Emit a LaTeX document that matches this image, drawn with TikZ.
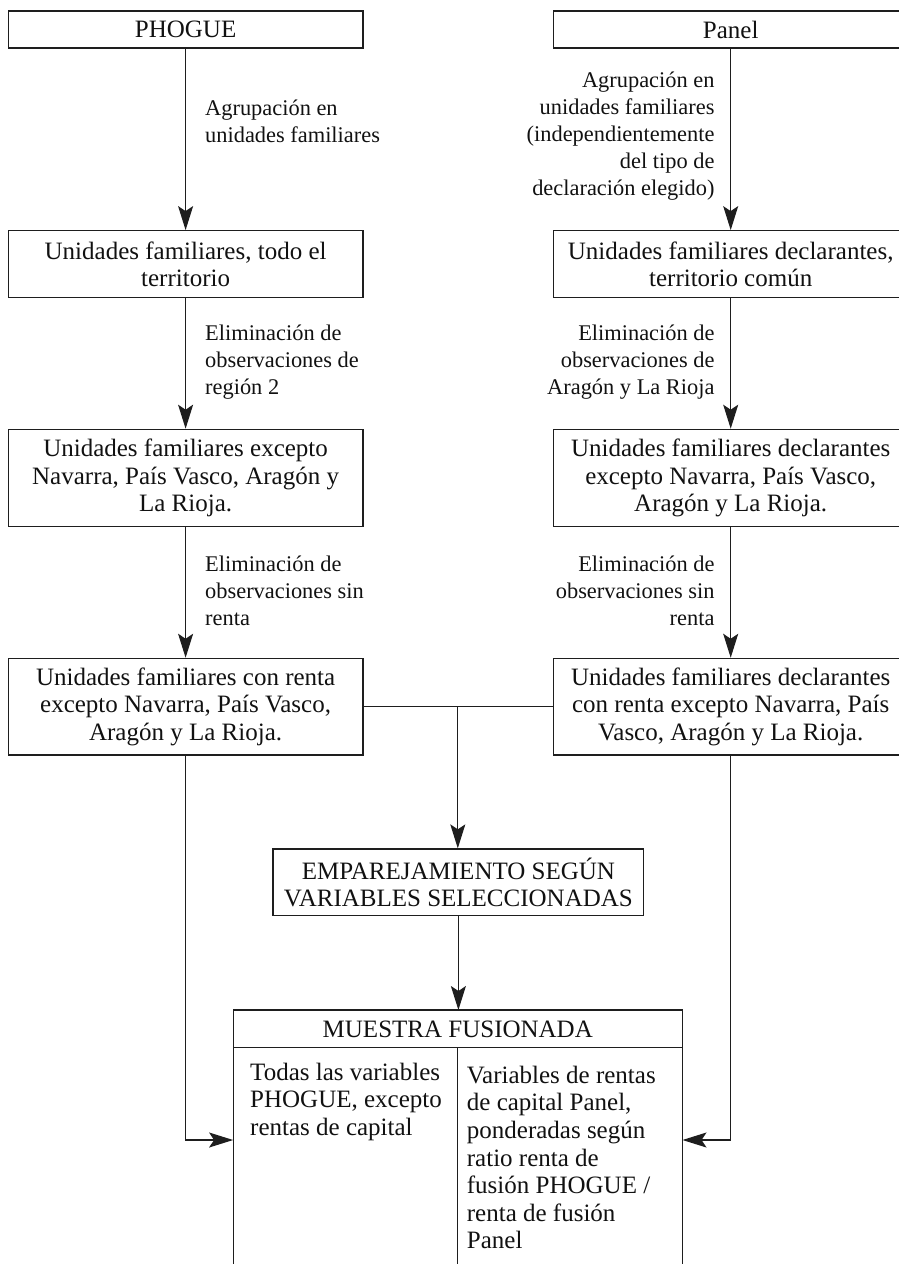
\documentclass[tikz,border=0pt]{standalone}
\usepackage{fontspec}
\setmainfont{Liberation Serif}
\usetikzlibrary{arrows.meta}
\definecolor{linec}{HTML}{1E1E1E}
\definecolor{txtc}{HTML}{111111}
\begin{document}
\begin{tikzpicture}[x=1pt,y=-1pt,
  box/.style={draw=linec, line width=1.2pt, align=center, inner sep=2pt, text=txtc,
              font=\fontsize{25}{27.6}\selectfont},
  lbl/.style={inner sep=0pt, text=txtc, font=\fontsize{22.4}{27}\selectfont},
  coltxt/.style={inner sep=0pt, text=txtc, align=left, anchor=west,
              font=\fontsize{25}{27.6}\selectfont},
  ln/.style={draw=linec, line width=1.2pt},
  arr/.style={draw=linec, line width=1.2pt, -{Stealth[length=24pt,width=15pt,inset=5pt]}}]
\useasboundingbox (0,0) rectangle (898,1264);

% left column
\node[box, minimum width=354.7pt, minimum height=37pt] (l1) at (185.6,29.5) {PHOGUE};
\node[box, minimum width=354.7pt, minimum height=67pt] (l2) at (185.6,264.2)
  {Unidades familiares, todo el\\territorio};
\node[box, minimum width=354.7pt, minimum height=97.4pt] (l3) at (185.6,478)
  {Unidades familiares excepto\\Navarra, País Vasco, Aragón y\\La Rioja.};
\node[box, minimum width=354.7pt, minimum height=96.7pt] (l4) at (185.6,706.7)
  {Unidades familiares con renta\\excepto Navarra, País Vasco,\\Aragón y La Rioja.};

% right column
\node[box, minimum width=355pt, minimum height=37pt] (r1) at (730.7,29.5) {Panel};
\node[box, minimum width=355pt, minimum height=67pt] (r2) at (730.7,264.2)
  {Unidades familiares declarantes,\\territorio común};
\node[box, minimum width=355pt, minimum height=97.4pt] (r3) at (730.7,478)
  {Unidades familiares declarantes\\excepto Navarra, País Vasco,\\Aragón y La Rioja.};
\node[box, minimum width=355pt, minimum height=96.7pt] (r4) at (730.7,706.7)
  {Unidades familiares declarantes\\con renta excepto Navarra, País\\Vasco, Aragón y La Rioja.};

% matching box
\node[box, minimum width=370.7pt, minimum height=66.7pt] (emp) at (458.4,882.3)
  {EMPAREJAMIENTO SEGÚN\\VARIABLES SELECCIONADAS};

% merged sample (open at the bottom)
\node[minimum width=449pt, minimum height=290pt, inner sep=0pt, anchor=north] (ms) at (457.8,1010) {};
\node[inner sep=0pt, text=txtc, font=\fontsize{25}{27.6}\selectfont] (mh) at (457.8,1029) {MUESTRA FUSIONADA};
\draw[ln] (ms.south west) -- (ms.north west) -- (ms.north east) -- (ms.south east);
\draw[ln] ([yshift=-37.7pt]ms.north west) -- ([yshift=-37.7pt]ms.north east);
\draw[ln] ([yshift=-37.7pt]ms.north) -- (ms.south);
\node[coltxt] (mcl) at (250,1101.7)
  {Todas las variables\\PHOGUE, excepto\\rentas de capital};
\node[coltxt] (mcr) at (466.7,1157.5)
  {Variables de rentas\\de capital Panel,\\ponderadas según\\ratio renta de\\fusión PHOGUE /\\renta de fusión\\Panel};

% labels
\node[lbl, anchor=west, align=left] (la1) at (205,121.5) {Agrupación en\\unidades familiares};
\node[lbl, anchor=east, align=right] (ra1) at (714.7,136.5)
  {Agrupación en\\unidades familiares\\(independientemente\\del tipo de\\declaración elegido)};
\node[lbl, anchor=west, align=left] (la2) at (205,362) {Eliminación de\\observaciones de\\región 2};
\node[lbl, anchor=east, align=right] (ra2) at (714.7,362) {Eliminación de\\observaciones de\\Aragón y La Rioja};
\node[lbl, anchor=west, align=left] (la3) at (205,591) {Eliminación de\\observaciones sin\\renta};
\node[lbl, anchor=east, align=right] (ra3) at (714.7,591) {Eliminación de\\observaciones sin\\renta};

% connectors
\draw[arr] (l1) -- (l2);
\draw[arr] (l2) -- (l3);
\draw[arr] (l3) -- (l4);
\draw[arr] (r1) -- (r2);
\draw[arr] (r2) -- (r3);
\draw[arr] (r3) -- (r4);
\coordinate (j) at (457.8,706.7);
\draw[ln] (l4.east) -- (r4.west);
\draw[arr] (j) -- (j |- emp.north);
\draw[arr] (emp.south) -- (emp.south |- ms.north);
\draw[arr] (l4.south) |- ([yshift=-130pt]ms.north west);
\draw[arr] (r4.south) |- ([yshift=-130pt]ms.north east);
\end{tikzpicture}
\end{document}
